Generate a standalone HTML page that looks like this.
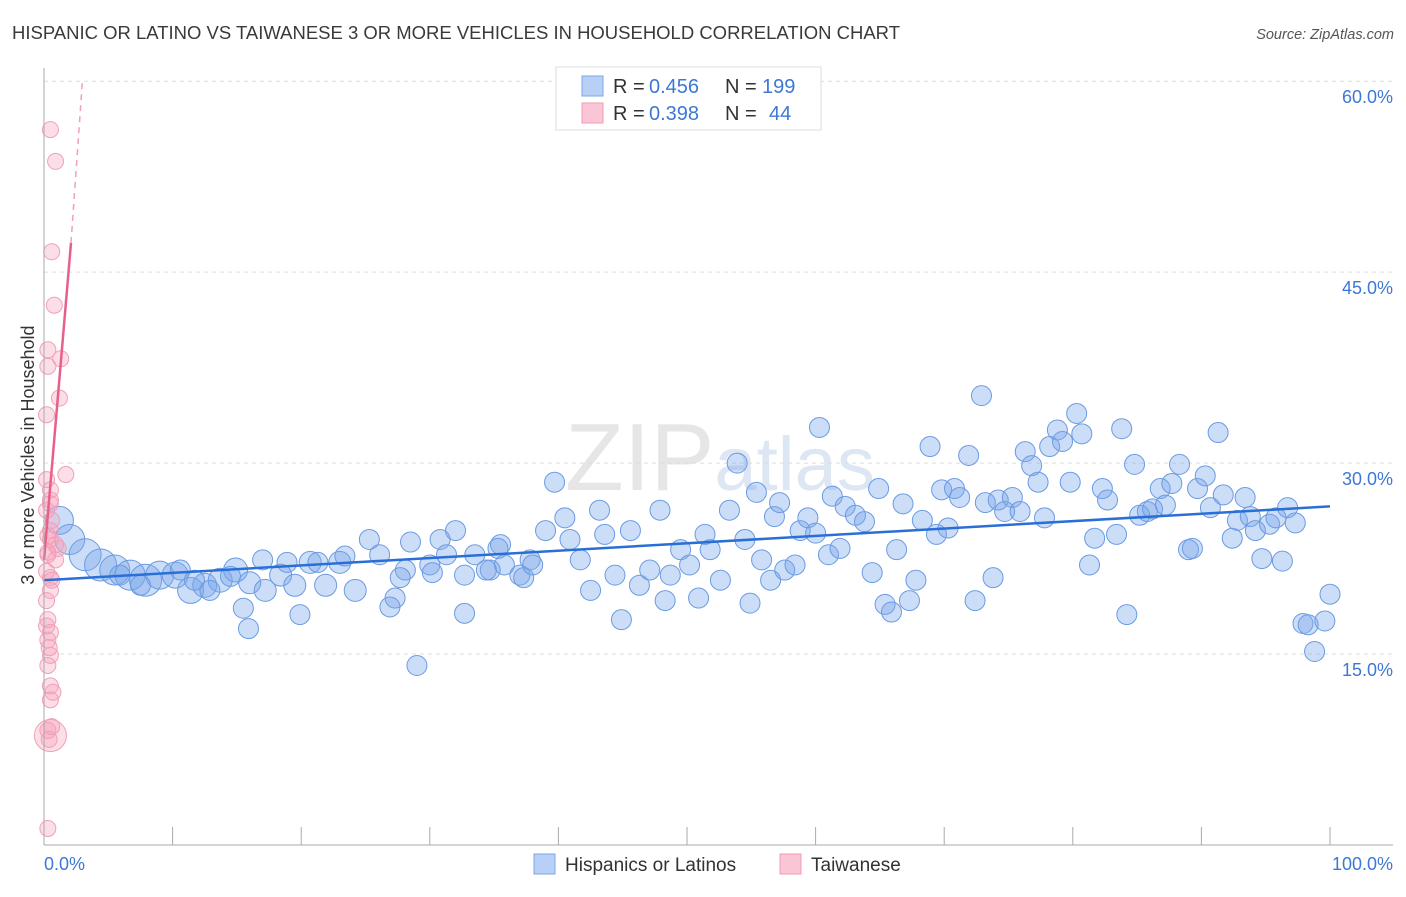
<!DOCTYPE html>
<html><head><meta charset="utf-8">
<style>
body{margin:0;background:#fff;font-family:"Liberation Sans",sans-serif;}
svg text{font-family:"Liberation Sans",sans-serif;}
</style></head>
<body>
<svg id="chart" width="1406" height="892" xmlns="http://www.w3.org/2000/svg">
<text x="12" y="39" font-size="18.5" fill="#3a3a3a" textLength="888" lengthAdjust="spacingAndGlyphs">HISPANIC OR LATINO VS TAIWANESE 3 OR MORE VEHICLES IN HOUSEHOLD CORRELATION CHART</text>
<text x="1394" y="39" font-size="14.5" fill="#555" font-style="italic" text-anchor="end">Source: ZipAtlas.com</text>
<text x="720" y="490" font-size="96" fill="#e6e6e6" text-anchor="middle" font-family="Liberation Serif">ZIP<tspan fill="#dde6f3" font-family="Liberation Sans" font-size="76">atlas</tspan></text>
<g id="grid"></g>
<g id="pts"></g>
<g id="axes"></g>
<text transform="translate(34,455) rotate(-90)" font-size="18" fill="#333" text-anchor="middle">3 or more Vehicles in Household</text>
<g>
<rect x="556" y="67" width="265" height="63" fill="#fff" stroke="#ddd"/>
<rect x="582" y="76" width="21" height="20" fill="#b8d0f5" stroke="#7ea6e6"/>
<rect x="582" y="103" width="21" height="20" fill="#fac6d5" stroke="#f09bb5"/>
<text x="613" y="93" font-size="20" fill="#333">R =</text>
<text x="649" y="93" font-size="20" fill="#3d78d6">0.456</text>
<text x="725" y="93" font-size="20" fill="#333">N =</text>
<text x="762" y="93" font-size="20" fill="#3d78d6">199</text>
<text x="613" y="120" font-size="20" fill="#333">R =</text>
<text x="649" y="120" font-size="20" fill="#3d78d6">0.398</text>
<text x="725" y="120" font-size="20" fill="#333">N =</text>
<text x="769" y="120" font-size="20" fill="#3d78d6">44</text>
</g>
<g>
<rect x="534" y="854" width="21" height="20" fill="#b8d0f5" stroke="#7ea6e6"/>
<text x="565" y="871" font-size="19" fill="#333">Hispanics or Latinos</text>
<rect x="780" y="854" width="21" height="20" fill="#fac6d5" stroke="#f09bb5"/>
<text x="811" y="871" font-size="19" fill="#333">Taiwanese</text>
</g>
</svg>
<script>
const yTicks=[15,30,45,60];
const yTickLabels=["15.0%","30.0%","45.0%","60.0%"];
const xTickLabels=["0.0%","100.0%"];
const blueX=[1.2,2.0,3.2,4.4,5.5,6.7,7.9,9.0,10.2,11.4,12.5,13.7,14.9,16.0,17.2,18.4,19.5,20.7,21.9,23.0,24.2,25.3,26.1,27.3,28.1,28.5,30.0,30.8,32.0,32.7,33.5,34.7,35.5,35.8,37.0,37.8,39.0,39.7,40.5,40.9,41.7,42.5,43.2,43.6,44.4,44.9,45.6,46.3,47.1,47.9,48.3,48.7,49.5,50.2,50.9,51.4,51.8,52.6,53.3,53.9,54.5,54.9,55.4,55.8,56.5,56.8,57.2,57.6,58.4,58.8,59.4,60.0,60.3,61.0,61.3,61.9,62.3,63.1,63.8,64.4,64.9,65.4,65.9,66.3,66.8,67.3,67.8,68.3,68.9,69.4,69.8,70.3,70.8,71.2,71.9,72.4,72.9,73.2,73.8,74.2,74.7,75.3,75.9,76.3,76.8,77.3,77.8,78.2,78.8,79.2,79.8,80.3,80.7,81.3,81.7,82.3,82.7,83.4,83.8,84.2,84.8,85.2,85.8,86.2,86.8,87.2,87.7,88.3,89.0,89.3,89.7,90.3,90.7,91.3,91.7,92.4,92.8,93.4,93.8,94.2,94.7,95.3,95.8,96.3,96.7,97.3,97.9,98.3,98.8,99.6,100,15.5,15.9,19.9,29.0,32.7,26.9,10.6,7.5,5.9,11.7,12.9,14.5,17.0,18.9,21.3,23.4,27.7,30.2,31.3,34.4,35.3,37.3,38.0];
const blueY=[25.5,24.0,22.8,22.0,21.6,21.2,20.8,21.2,21.2,20.0,20.4,20.8,21.6,20.6,20.0,21.2,20.4,22.2,20.4,22.2,20.0,24.0,22.8,19.4,21.6,23.8,22.0,24.0,24.7,21.2,22.8,21.6,23.6,22.0,21.2,22.4,24.7,28.5,25.7,24.0,22.4,20.0,26.3,24.4,21.2,17.7,24.7,20.4,21.6,26.3,19.2,21.2,23.2,22.0,19.4,24.4,23.2,20.8,26.3,30.0,24.0,19.0,27.7,22.4,20.8,25.8,26.9,21.6,22.0,24.7,25.7,24.5,32.8,22.8,27.4,23.3,26.6,25.9,25.4,21.4,28.0,18.9,18.3,23.2,26.8,19.2,20.8,25.5,31.3,24.4,27.9,24.9,28.0,27.3,30.6,19.2,35.3,26.9,21.0,27.1,26.2,27.3,26.2,30.9,29.8,28.5,25.7,31.3,32.6,31.7,28.5,33.9,32.3,22.0,24.1,28.0,27.1,24.4,32.7,18.1,29.9,25.9,26.2,26.4,28.0,26.7,28.4,29.9,23.2,23.3,28.0,29.0,26.5,32.4,27.5,24.1,25.5,27.3,25.8,24.7,22.5,25.2,25.7,22.3,26.5,25.3,17.4,17.3,15.2,17.6,19.7,18.6,17.0,18.1,14.1,18.2,18.7,21.6,20.4,21.2,20.8,20.0,21.1,22.4,22.2,22.2,22.7,21.0,21.4,22.8,21.6,23.3,21.0,22.0];
const blueSize=[14,15,16,16,15,15,16,14,13,13,12,12,12,11,11,11,11,11,11,11,11];
const pinkX=[0.5,0.9,0.6,0.8,0.3,1.3,0.3,1.2,0.2,1.7,0.5,0.5,0.2,0.6,0.5,0.5,0.9,0.3,0.5,0.5,0.3,0.5,0.3,0.5,0.3,0.5,0.7,0.5,0.3,0.3,0.2,0.9,0.2,0.5,0.6,1.1,0.3,0.4,0.2,0.6,0.4,0.3,0.2,0.5];
const pinkY=[56.2,53.7,46.6,42.4,38.9,38.2,37.6,35.1,33.8,29.1,27.9,27.1,26.3,25.5,24.7,24.0,23.6,22.8,21.0,20.0,17.7,16.7,16.1,14.9,14.1,12.5,12.0,8.6,9.0,1.3,28.7,22.4,19.2,11.4,20.8,23.3,24.3,15.5,17.2,9.3,8.3,23.0,21.5,26.8];
const blueTrend=[20.8,26.6];
const pinkTrend=[22.4,47.3,60.2];
const pinkTrendX=[0,2.1,3.0];

const NS="http://www.w3.org/2000/svg";
const X0=44,X1=1330,Y0=845,YPX=12.73;
const xs=v=>X0+(X1-X0)*v/100;
const ys=v=>Y0-v*YPX;
function mk(tag,attrs,parent){const e=document.createElementNS(NS,tag);for(const k in attrs)e.setAttribute(k,attrs[k]);parent.appendChild(e);return e;}
const grid=document.getElementById('grid'),axes=document.getElementById('axes'),pts=document.getElementById('pts');
yTicks.forEach((t,i)=>{
  const l=mk('line',{x1:X0,x2:1393,y1:ys(t),y2:ys(t),stroke:'#ddd','stroke-dasharray':'4,4'},grid);
  
  
  const tx=mk('text',{x:1393,y:ys(t)+22,'font-size':18,fill:'#3d78d6','text-anchor':'end'},axes);
  tx.textContent=yTickLabels[i];
  
  
});
mk('line',{x1:X0,x2:X0,y1:68,y2:Y0,stroke:'#aaa'},axes);
mk('line',{x1:X0,x2:1393,y1:Y0,y2:Y0,stroke:'#aaa'},axes);
for(let i=1;i<=10;i++){
  const t=mk('line',{x1:xs(i*10),x2:xs(i*10),y1:827,y2:Y0,stroke:'#aaa'},axes);
  
  
}
const xl0=mk('text',{x:44,y:870,'font-size':18,fill:'#3d78d6'},axes);xl0.textContent=xTickLabels[0];


const xl1=mk('text',{x:1393,y:870,'font-size':18,fill:'#3d78d6','text-anchor':'end'},axes);xl1.textContent=xTickLabels[1];



blueX.forEach((x,i)=>{
  const r=blueSize[i]||10;
  const c=mk('circle',{cx:xs(x),cy:ys(blueY[i]),r:r,fill:'rgba(120,165,235,0.38)',stroke:'#6a9be3','stroke-width':1},pts);
  
  
});
pinkX.forEach((x,i)=>{
  const r=(i==27)?16:8;
  const c=mk('circle',{cx:xs(x),cy:ys(pinkY[i]),r:r,fill:'rgba(245,160,185,0.35)',stroke:'#f0a0b8','stroke-width':1},pts);
  
  
});
const bt=mk('line',{x1:xs(0),y1:ys(blueTrend[0]),x2:xs(100),y2:ys(blueTrend[1]),stroke:'#2a6fd6','stroke-width':2.5},pts);


const pt=mk('line',{x1:xs(pinkTrendX[0]),y1:ys(pinkTrend[0]),x2:xs(pinkTrendX[1]),y2:ys(pinkTrend[1]),stroke:'#e8608a','stroke-width':2.5},pts);


const pd=mk('line',{x1:xs(pinkTrendX[1]),y1:ys(pinkTrend[1]),x2:xs(pinkTrendX[2]),y2:ys(pinkTrend[2]),stroke:'#f0a0b8','stroke-width':1.5,'stroke-dasharray':'6,5'},pts);


</script>
</body></html>
